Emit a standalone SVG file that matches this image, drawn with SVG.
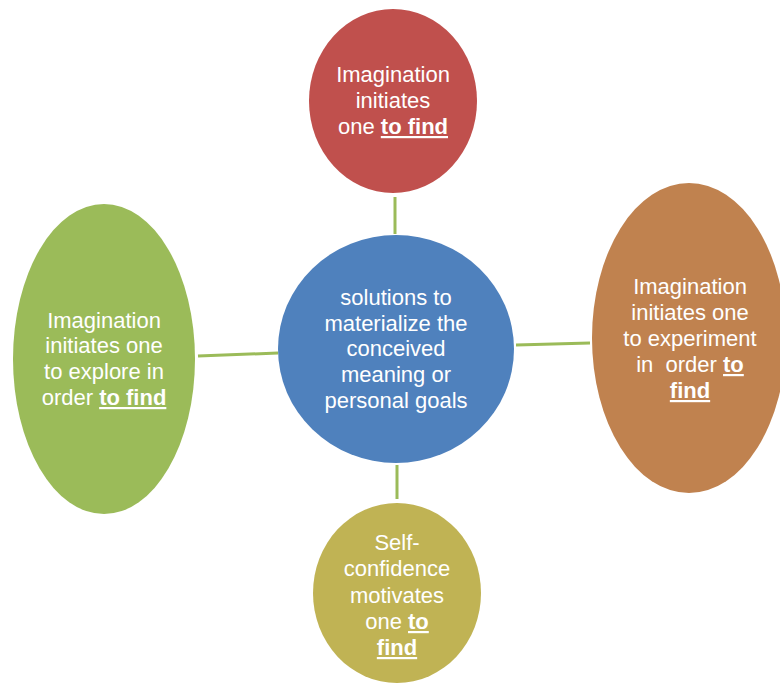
<svg xmlns="http://www.w3.org/2000/svg" width="780" height="683" viewBox="0 0 780 683">
<style>
text{font-family:"Liberation Sans",Arial,sans-serif;font-size:22px;fill:#fff;text-anchor:middle}
.b{font-weight:bold;text-decoration:underline}
.c{stroke:#9BBB59;stroke-width:3;fill:none}
</style>
<rect width="780" height="683" fill="#fff"/>
<g id="connectors">
<line class="c" x1="395" y1="197" x2="395" y2="234"/>
<line class="c" x1="516" y1="345" x2="590" y2="343"/>
<line class="c" x1="198" y1="356" x2="278" y2="353"/>
<line class="c" x1="397" y1="465" x2="397" y2="499"/>
</g>
<g id="top">
<ellipse cx="393" cy="101" rx="84" ry="92" fill="#C0504D"/>
<text x="393" y="82">Imagination</text>
<text x="393" y="108">initiates</text>
<text x="393" y="134">one <tspan class="b">to find</tspan></text>
</g>
<g id="center">
<ellipse cx="396" cy="349" rx="118" ry="114" fill="#4F81BD"/>
<text x="396" y="305">solutions to</text>
<text x="396" y="331">materialize the</text>
<text x="396" y="356">conceived</text>
<text x="396" y="382">meaning or</text>
<text x="396" y="408">personal goals</text>
</g>
<g id="right">
<ellipse cx="689" cy="338" rx="97" ry="155" fill="#C0824F"/>
<text x="690" y="294">Imagination</text>
<text x="690" y="320">initiates one</text>
<text x="690" y="346">to experiment</text>
<text x="690" y="372" xml:space="preserve">in  order <tspan class="b">to</tspan></text>
<text x="690" y="398"><tspan class="b">find</tspan></text>
</g>
<g id="left">
<ellipse cx="104" cy="359" rx="91" ry="155" fill="#9BBB59"/>
<text x="104" y="328">Imagination</text>
<text x="104" y="353">initiates one</text>
<text x="104" y="379">to explore in</text>
<text x="104" y="405">order <tspan class="b">to find</tspan></text>
</g>
<g id="bottom">
<ellipse cx="397" cy="593" rx="84" ry="90" fill="#C0B354"/>
<text x="397" y="550">Self-</text>
<text x="397" y="576">confidence</text>
<text x="397" y="603">motivates</text>
<text x="397" y="629">one <tspan class="b">to</tspan></text>
<text x="397" y="655"><tspan class="b">find</tspan></text>
</g>
</svg>
